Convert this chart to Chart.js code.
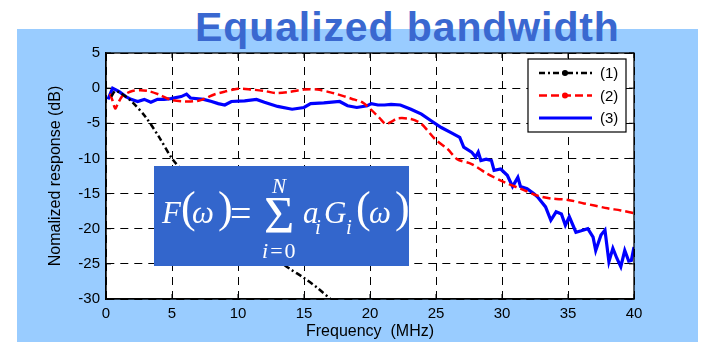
<!DOCTYPE html>
<html>
<head>
<meta charset="utf-8">
<script src="https://cdn.jsdelivr.net/npm/chart.js@4/dist/chart.umd.min.js"></script>
<style>
  html, body { margin: 0; padding: 0; background: #fff; }
  #wrap { position: relative; width: 704px; height: 342px; overflow: hidden; }
  #panel { position: absolute; left: 17px; top: 29px; width: 681px; height: 313px; background: #99ccff; }
  #titulo {
    position: absolute; left: 195px; top: 7px; z-index: 1;
    font: bold 41px "Liberation Sans", Arial, sans-serif; line-height: 1;
    letter-spacing: 0.9px; color: #3a68d0; white-space: nowrap;
  }
  #grafico { position: absolute; left: 0; top: 0; z-index: 2; }
  #formula {
    position: absolute; left: 154px; top: 166px; width: 255px; height: 100px;
    background: #3366cc; z-index: 3; color: #fff;
    font-family: "Liberation Serif", "DejaVu Serif", serif;
  }
  #formula span { position: absolute; line-height: 1; white-space: nowrap; }
  #formula .it { font-style: italic; }
</style>
</head>
<body>
<div id="wrap">
  <div id="panel"></div>
  <div id="titulo">Equalized bandwidth</div>
  <canvas id="grafico" width="704" height="342"></canvas>
  <!-- F(w) = soma de a_i G_i(w), i = 0..N -->
  <div id="formula">
    <span class="it" style="left:8px; top:31px; font-size:31px;">F</span>
    <span style="left:27px; top:20px; font-size:44px;">(</span>
    <span class="it" style="left:38px; top:31px; font-size:31px;">ω</span>
    <span style="left:64px; top:20px; font-size:44px;">)</span>
    <span style="left:76px; top:28px; font-size:38px;">=</span>
    <span class="it" style="left:118px; top:10px; font-size:21px;">N</span>
    <span style="left:110px; top:24px; font-size:52px;">Σ</span>
    <span style="left:108px; top:74px; font-size:22px; letter-spacing:2px;"><i>i</i>=0</span>
    <span class="it" style="left:149px; top:31px; font-size:31px;">a</span>
    <span class="it" style="left:161px; top:51px; font-size:21px;">i</span>
    <span class="it" style="left:170px; top:31px; font-size:31px;">G</span>
    <span class="it" style="left:192px; top:51px; font-size:21px;">i</span>
    <span style="left:202px; top:20px; font-size:44px;">(</span>
    <span class="it" style="left:215px; top:31px; font-size:31px;">ω</span>
    <span style="left:241px; top:20px; font-size:44px;">)</span>
  </div>
</div>

<script>
// ---- dados das curvas (frequencia em MHz, resposta em dB) ----
const freq1 = [0.4, 0.7, 1.0, 1.5, 2.0, 3.0, 4.0, 5.0, 6.0, 7.0, 8.0, 9.0, 10.0, 11.0, 12.0, 13.0, 13.4, 14.0, 15.0, 16.0, 17.0, 17.5];
const resp1 = [-1.2, -0.4, -0.6, -1.2, -2.0, -4.1, -6.9, -10.0, -12.2, -14.3, -16.2, -18.0, -19.7, -21.3, -22.8, -24.3, -25.0, -25.8, -27.0, -28.4, -30.0, -30.8];

const freq2 = [0.3, 0.5, 0.7, 0.9, 1.2, 1.6, 2.0, 2.6, 3.2, 4.0, 5.0, 6.0, 7.0, 7.6, 8.2, 9.0, 10.0, 11.0, 12.0, 12.9, 14.0, 15.0, 16.0, 17.0, 17.5, 18.6, 19.4, 20.1, 20.7, 21.2, 21.6, 22.1, 23.1, 23.9, 24.9, 25.9, 26.6, 27.7, 28.9, 30.2, 31.4, 32.7, 33.7, 35.0, 36.2, 37.0, 38.0, 39.0, 40.0];
const resp2 = [-0.8, -1.8, -2.9, -2.2, -1.2, -0.7, -0.4, -0.3, -0.4, -0.9, -1.7, -1.9, -1.8, -1.4, -0.9, -0.5, -0.1, -0.2, -0.4, -0.7, -0.5, -0.2, -0.2, -0.6, -0.85, -1.5, -2.0, -3.1, -4.2, -5.1, -4.8, -4.3, -4.4, -5.1, -7.2, -8.7, -10.1, -10.8, -12.2, -13.4, -14.3, -15.3, -15.7, -15.9, -16.4, -16.7, -17.1, -17.4, -17.8];

const freq3 = [0.15, 0.5, 1.0, 1.5, 1.9, 2.4, 2.9, 3.4, 3.9, 4.4, 4.9, 5.7, 6.1, 6.4, 7.4, 8.0, 8.5, 9.0, 9.5, 10.5, 11.4, 12.0, 13.0, 14.1, 15.0, 15.5, 16.5, 17.7, 18.3, 19.0, 19.8, 20.1, 20.6, 21.1, 21.6, 22.3, 23.1, 23.9, 24.6, 25.4, 26.1, 26.8, 27.1, 27.7, 28.0, 28.2, 28.4, 28.8, 29.2, 29.4, 29.9, 30.4, 30.8, 31.2, 31.4, 31.9, 32.4, 32.7, 33.3, 33.7, 34.1, 34.5, 34.8, 35.1, 35.6, 36.0, 36.5, 36.9, 37.1, 37.5, 37.8, 38.1, 38.4, 38.7, 39.0, 39.3, 39.6, 39.8, 40.0];
const resp3 = [-1.6, 0.0, -0.5, -1.2, -1.6, -1.9, -1.6, -2.0, -1.6, -1.6, -1.5, -1.2, -0.85, -1.4, -1.6, -1.9, -2.2, -2.4, -1.9, -1.8, -1.6, -2.0, -2.6, -3.0, -2.75, -2.2, -2.1, -1.9, -2.5, -2.75, -2.5, -2.2, -2.4, -2.4, -2.3, -2.4, -3.0, -3.7, -4.6, -5.6, -6.3, -7.0, -8.4, -9.1, -9.8, -9.1, -10.3, -10.1, -10.3, -11.7, -11.5, -12.4, -14.0, -12.7, -14.0, -14.3, -15.0, -15.5, -16.9, -18.8, -17.6, -17.9, -19.5, -18.3, -20.5, -20.3, -20.0, -21.2, -23.1, -20.9, -20.2, -24.7, -22.8, -24.2, -25.4, -23.1, -24.6, -24.5, -22.6];

const rotulos = ["(1)", "(2)", "(3)"];

const fonte = "Liberation Sans, Arial, sans-serif";

function pares(xs, ys) {
    return xs.map((x, i) => ({ x: x, y: ys[i] }));
}

// fundo branco da area do grafico
const fundoPlugin = {
    id: "fundo",
    beforeDraw(chart) {
        const a = chart.chartArea;
        const ctx = chart.ctx;
        ctx.save();
        ctx.fillStyle = "#fff";
        ctx.fillRect(a.left, a.top, a.right - a.left, a.bottom - a.top);
        ctx.restore();
    }
};

// moldura fechada com marcas internas + legenda em caixa
const molduraPlugin = {
    id: "moldura",
    afterDraw(chart) {
        const a = chart.chartArea;
        const ctx = chart.ctx;
        const sx = chart.scales.x, sy = chart.scales.y;
        ctx.save();
        ctx.strokeStyle = "#000";
        ctx.lineWidth = 1.3;
        ctx.setLineDash([]);
        ctx.strokeRect(a.left, a.top, a.right - a.left, a.bottom - a.top);

        ctx.lineWidth = 1;
        ctx.beginPath();
        sx.ticks.forEach(t => {
            const px = sx.getPixelForValue(t.value);
            ctx.moveTo(px, a.bottom); ctx.lineTo(px, a.bottom - 5);
            ctx.moveTo(px, a.top); ctx.lineTo(px, a.top + 5);
        });
        sy.ticks.forEach(t => {
            const py = sy.getPixelForValue(t.value);
            ctx.moveTo(a.left, py); ctx.lineTo(a.left + 5, py);
            ctx.moveTo(a.right, py); ctx.lineTo(a.right - 5, py);
        });
        ctx.stroke();

        // legenda
        const bx = a.right - 106, by = a.top + 6, bw = 98, bh = 73;
        ctx.fillStyle = "#fff";
        ctx.fillRect(bx, by, bw, bh);
        ctx.strokeStyle = "#000";
        ctx.lineWidth = 1.2;
        ctx.strokeRect(bx, by, bw, bh);

        chart.data.datasets.forEach((ds, i) => {
            const y = by + 14 + i * 22.5;
            ctx.strokeStyle = ds.borderColor;
            ctx.lineWidth = ds.borderWidth;
            ctx.setLineDash(ds.borderDash || []);
            ctx.beginPath();
            ctx.moveTo(bx + 11, y);
            ctx.lineTo(bx + 64, y);
            ctx.stroke();
            ctx.setLineDash([]);
            if (i < 2) {
                ctx.fillStyle = ds.borderColor;
                ctx.beginPath();
                ctx.arc(bx + 37, y, 3, 0, Math.PI * 2);
                ctx.fill();
            }
            ctx.fillStyle = "#000";
            ctx.font = "15px " + fonte;
            ctx.textBaseline = "middle";
            ctx.fillText(rotulos[i], bx + 72, y + 1);
        });
        ctx.restore();
    }
};

const eixoComum = {
    type: "linear",
    grid: { color: "#000", lineWidth: 1, drawTicks: false },
    border: { color: "#000", width: 1.3, dash: [8, 6] },
    ticks: { stepSize: 5, color: "#000", font: { family: fonte, size: 15 }, padding: 6 }
};

new Chart(document.getElementById("grafico"), {
    type: "line",
    data: {
        datasets: [{
            label: rotulos[0],
            data: pares(freq1, resp1),
            borderColor: "#000",
            borderWidth: 2.5,
            borderDash: [6, 3, 2, 3],
            pointRadius: 0,
            fill: false,
            tension: 0.3
        }, {
            label: rotulos[1],
            data: pares(freq2, resp2),
            borderColor: "#ff0000",
            borderWidth: 2.5,
            borderDash: [8, 4],
            pointRadius: 0,
            fill: false,
            tension: 0.3
        }, {
            label: rotulos[2],
            data: pares(freq3, resp3),
            borderColor: "#0000ff",
            borderWidth: 3.2,
            pointRadius: 0,
            fill: false,
            tension: 0
        }]
    },
    options: {
        responsive: false,
        animation: false,
        layout: { padding: { left: 0, right: 70, top: 53, bottom: 0 } },
        plugins: { legend: { display: false }, tooltip: { enabled: false } },
        scales: {
            x: Object.assign({}, eixoComum, {
                min: 0, max: 40,
                ticks: Object.assign({}, eixoComum.ticks, { maxRotation: 0 }),
                title: { display: true, text: "Frequency  (MHz)", color: "#000", font: { family: fonte, size: 16 }, padding: { top: 0, bottom: 1 } },
                afterFit(s) { s.height = 43; }
            }),
            y: Object.assign({}, eixoComum, {
                min: -30, max: 5,
                title: { display: true, text: "Nomalized response (dB)", color: "#000", font: { family: fonte, size: 16 }, padding: { top: 46, bottom: 0 } },
                afterFit(s) { s.width = 106; }
            })
        }
    },
    plugins: [fundoPlugin, molduraPlugin]
});
</script>
</body>
</html>
